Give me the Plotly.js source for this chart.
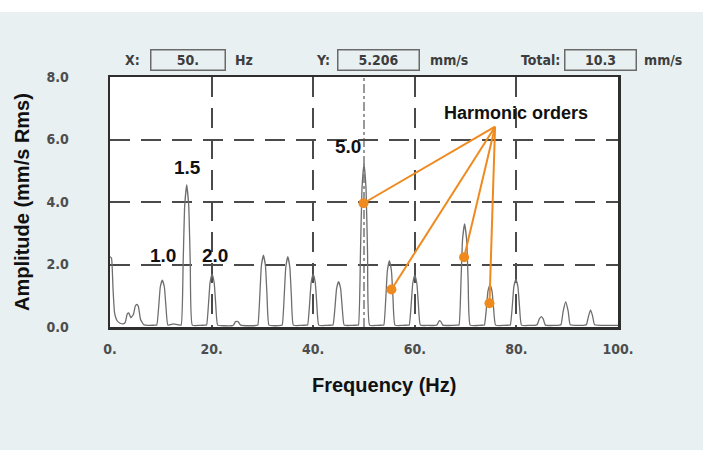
<!DOCTYPE html>
<html>
<head>
<meta charset="utf-8">
<script src="https://cdn.plot.ly/plotly-3.0.1.min.js"></script>
<style>
html,body{margin:0;padding:0;background:#ffffff;width:711px;height:458px;overflow:hidden;}
#chart{position:absolute;left:0;top:12px;width:703px;height:438px;}
</style>
</head>
<body>
<div id="chart"></div>
<script>
// ---- spectrum (frequency in Hz, amplitude in mm/s RMS) ----
const freqHz = [
  0.0, 0.3, 0.6, 0.9, 1.4, 2.0, 2.6,
  3.0, 3.4, 3.7, 4.1,
  4.6, 5.0, 5.3, 5.6, 6.0, 6.6,
  7.5, 8.8,
  9.2, 9.6, 9.9, 10.3, 10.7, 11.0, 11.4,
  12.5, 13.5,
  14.0, 14.4, 14.7, 15.1, 15.5, 15.8, 16.2,
  17.5, 18.6,
  19.0, 19.4, 19.7, 20.1, 20.5, 20.8, 21.2,
  22.5, 24.0,
  24.3, 24.7, 25.2, 25.7,
  27.5, 28.8,
  29.1, 29.5, 29.8, 30.2, 30.6, 30.9, 31.3,
  32.5, 33.6,
  33.9, 34.3, 34.6, 35.0, 35.4, 35.7, 36.1,
  37.5, 38.6,
  38.9, 39.3, 39.6, 40.0, 40.4, 40.7, 41.1,
  42.5, 43.6,
  43.9, 44.3, 44.6, 45.0, 45.4, 45.7, 46.1,
  47.5, 48.6,
  48.9, 49.3, 49.6, 50.0, 50.4, 50.7, 51.1,
  52.5, 53.6,
  53.9, 54.3, 54.6, 55.0, 55.4, 55.7, 56.1,
  57.5, 58.6,
  58.9, 59.3, 59.6, 60.0, 60.4, 60.7, 61.1,
  62.5, 64.0,
  64.4, 64.8, 65.1, 65.5,
  67.5, 68.4,
  68.7, 69.1, 69.4, 69.8, 70.2, 70.5, 70.9,
  72.5, 73.4,
  73.7, 74.1, 74.4, 74.8, 75.2, 75.5, 75.9,
  77.5, 78.5,
  78.8, 79.2, 79.5, 79.9, 80.3, 80.6, 81.0,
  82.5, 83.8,
  84.1, 84.5, 84.9, 85.3, 85.7,
  87.5, 88.5,
  88.8, 89.2, 89.7, 90.2, 90.6,
  92.5, 93.5,
  93.8, 94.2, 94.6, 95.0, 95.4,
  97.5, 100.0
];
const amplitude = [
  2.25, 2.2, 1.2, 0.45, 0.2, 0.12, 0.1,
  0.15, 0.42, 0.45, 0.3,
  0.4, 0.68, 0.72, 0.65, 0.25, 0.08,
  0.05, 0.06,
  0.06, 0.68, 1.28, 1.5, 1.28, 0.68, 0.06,
  0.1, 0.07,
  0.06, 2.05, 3.87, 4.55, 3.87, 2.05, 0.06,
  0.05, 0.06,
  0.06, 0.76, 1.43, 1.68, 1.43, 0.76, 0.06,
  0.04, 0.04,
  0.06, 0.17, 0.17, 0.06,
  0.04, 0.05,
  0.06, 1.04, 1.96, 2.3, 1.96, 1.04, 0.06,
  0.04, 0.05,
  0.06, 1.01, 1.91, 2.25, 1.91, 1.01, 0.06,
  0.05, 0.06,
  0.06, 0.76, 1.43, 1.68, 1.43, 0.76, 0.06,
  0.05, 0.06,
  0.06, 0.65, 1.23, 1.45, 1.23, 0.65, 0.06,
  0.05, 0.06,
  0.06, 2.34, 4.43, 5.21, 4.43, 2.34, 0.06,
  0.05, 0.06,
  0.06, 0.95, 1.8, 2.12, 1.8, 0.95, 0.06,
  0.05, 0.06,
  0.06, 0.74, 1.4, 1.65, 1.4, 0.74, 0.06,
  0.05, 0.05,
  0.07, 0.2, 0.18, 0.06,
  0.05, 0.06,
  0.06, 1.49, 2.8, 3.3, 2.8, 1.49, 0.06,
  0.05, 0.06,
  0.06, 0.61, 1.15, 1.35, 1.15, 0.61, 0.06,
  0.05, 0.06,
  0.06, 0.68, 1.29, 1.52, 1.29, 0.68, 0.06,
  0.05, 0.06,
  0.08, 0.25, 0.33, 0.25, 0.06,
  0.05, 0.06,
  0.08, 0.5, 0.8, 0.5, 0.07,
  0.05, 0.06,
  0.08, 0.35, 0.55, 0.35, 0.07,
  0.05, 0.05
];

// ---- axis ticks ----
const xTickVals = [0, 20, 40, 60, 80, 100];
const xTickText = ['0.', '20.', '40.', '60.', '80.', '100.'];
const yTickVals = [0, 2, 4, 6, 8];
const yTickText = ['0.0', '2.0', '4.0', '6.0', '8.0'];

// ---- cursor read-out ----
const cursorX = 50;
const readoutX = '50.';
const readoutY = '5.206';
const readoutTotal = '10.3';

// ---- harmonic order labels ----
const orderLabels = ['1.0', '1.5', '2.0', '5.0'];
const orderLabelF = [10.5, 15.2, 20.7, 46.9];
const orderLabelA = [2.3, 5.12, 2.3, 5.78];

// ---- "Harmonic orders" callout ----
const calloutText = 'Harmonic orders';
const calloutTextF = 79.9;
const calloutTextA = 6.86;
const calloutOriginF = 75.8;
const calloutOriginA = 6.41;
const calloutPointF = [49.9, 55.4, 69.7, 74.7];
const calloutPointA = [3.96, 1.2, 2.23, 0.76];

const ORANGE = '#ef8a1f';
const tickFont = {family: '"DejaVu Sans Condensed", "DejaVu Sans", sans-serif', size: 14, color: '#4d4d4d', weight: 'bold'};
const headFont = {family: '"DejaVu Sans Condensed", "DejaVu Sans", sans-serif', size: 14, color: '#3d3d3d', weight: 'bold'};
const labelFont = {family: '"Liberation Sans", Arial, sans-serif', size: 19, color: '#111111', weight: 'bold'};

const traces = [];
traces.push({
  x: freqHz, y: amplitude, type: 'scatter', mode: 'lines',
  line: {color: '#6e6e6e', width: 1.3, shape: 'spline', smoothing: 0.4},
  hoverinfo: 'skip', showlegend: false
});
for (let i = 0; i < calloutPointF.length; i++) {
  traces.push({
    x: [calloutOriginF, calloutPointF[i]], y: [calloutOriginA, calloutPointA[i]],
    type: 'scatter', mode: 'lines', line: {color: ORANGE, width: 2},
    hoverinfo: 'skip', showlegend: false
  });
}
traces.push({
  x: calloutPointF, y: calloutPointA, type: 'scatter', mode: 'markers',
  marker: {color: ORANGE, size: 10},
  hoverinfo: 'skip', showlegend: false
});

const annotations = [];
for (let i = 0; i < orderLabels.length; i++) {
  annotations.push({x: orderLabelF[i], y: orderLabelA[i], xref: 'x', yref: 'y',
    text: orderLabels[i], showarrow: false, font: labelFont});
}
annotations.push({x: calloutTextF, y: calloutTextA, xref: 'x', yref: 'y',
  text: calloutText, showarrow: false, font: Object.assign({}, labelFont, {size: 18})});

// header read-out row
const hy = 1.068;
annotations.push({x: 0.063, y: hy, xref: 'paper', yref: 'paper', xanchor: 'right', yanchor: 'middle', text: 'X:', showarrow: false, font: headFont});
annotations.push({x: 0.1526, y: hy, xref: 'paper', yref: 'paper', xanchor: 'center', yanchor: 'middle', text: readoutX, showarrow: false, font: headFont,
  width: 73, height: 19, borderpad: 0, bordercolor: '#6a6a6a', borderwidth: 1.5});
annotations.push({x: 0.242, y: hy, xref: 'paper', yref: 'paper', xanchor: 'left', yanchor: 'middle', text: 'Hz', showarrow: false, font: headFont});
annotations.push({x: 0.437, y: hy, xref: 'paper', yref: 'paper', xanchor: 'right', yanchor: 'middle', text: 'Y:', showarrow: false, font: headFont});
annotations.push({x: 0.5295, y: hy, xref: 'paper', yref: 'paper', xanchor: 'center', yanchor: 'middle', text: readoutY, showarrow: false, font: headFont,
  width: 80, height: 19, borderpad: 0, bordercolor: '#6a6a6a', borderwidth: 1.5});
annotations.push({x: 0.626, y: hy, xref: 'paper', yref: 'paper', xanchor: 'left', yanchor: 'middle', text: 'mm/s', showarrow: false, font: headFont});
annotations.push({x: 0.890, y: hy, xref: 'paper', yref: 'paper', xanchor: 'right', yanchor: 'middle', text: 'Total:', showarrow: false, font: headFont});
annotations.push({x: 0.9665, y: hy, xref: 'paper', yref: 'paper', xanchor: 'center', yanchor: 'middle', text: readoutTotal, showarrow: false, font: headFont,
  width: 70, height: 19, borderpad: 0, bordercolor: '#6a6a6a', borderwidth: 1.5});
annotations.push({x: 1.047, y: hy, xref: 'paper', yref: 'paper', xanchor: 'left', yanchor: 'middle', text: 'mm/s', showarrow: false, font: headFont});

// x axis title placed as in the reference (slightly right of centre)
annotations.push({x: 0.539, y: -0.232, xref: 'paper', yref: 'paper', xanchor: 'center', yanchor: 'middle',
  text: 'Frequency (Hz)', showarrow: false, font: Object.assign({}, labelFont, {size: 20})});

const layout = {
  width: 703, height: 438,
  margin: {l: 110, r: 85, t: 65, b: 123},
  paper_bgcolor: '#e8f0f2',
  plot_bgcolor: '#ffffff',
  showlegend: false,
  hovermode: false,
  xaxis: {
    range: [0, 100], tickvals: xTickVals, ticktext: xTickText,
    showgrid: true, gridcolor: '#4a4a4a', gridwidth: 2, griddash: '20px,11px',
    zeroline: false, showline: true, mirror: true, linecolor: '#2e2e2e', linewidth: 2.5,
    ticks: '', tickfont: tickFont, ticklabelstandoff: 8, fixedrange: true
  },
  yaxis: {
    range: [0, 8], tickvals: yTickVals, ticktext: yTickText,
    showgrid: true, gridcolor: '#4a4a4a', gridwidth: 2, griddash: '20px,11px',
    zeroline: false, showline: true, mirror: true, linecolor: '#2e2e2e', linewidth: 2.5,
    ticks: '', tickfont: tickFont, ticklabelstandoff: 36, fixedrange: true,
    title: {text: 'Amplitude (mm/s Rms)', font: Object.assign({}, labelFont, {size: 20}), standoff: 12}
  },
  shapes: [{
    type: 'line', xref: 'x', yref: 'paper', x0: cursorX, x1: cursorX, y0: 0, y1: 1,
    line: {color: '#555555', width: 1.2, dash: 'dashdot'}, layer: 'below'
  }],
  annotations: annotations
};

Plotly.newPlot('chart', traces, layout, {displayModeBar: false, staticPlot: true});
</script>
</body>
</html>
